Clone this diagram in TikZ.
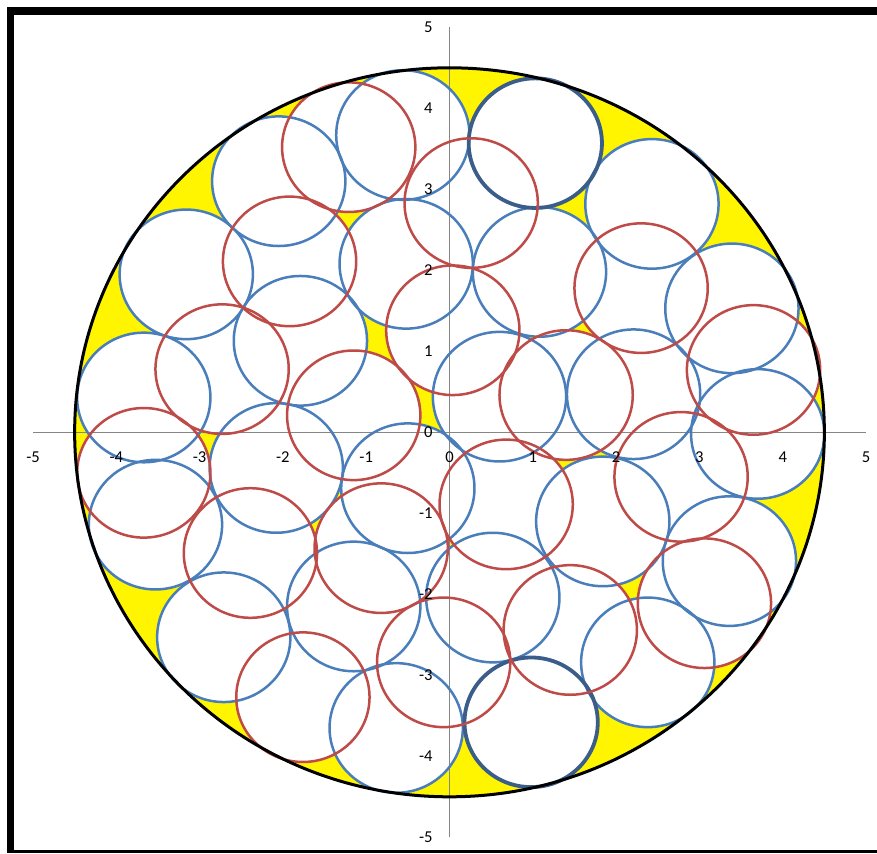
\documentclass[tikz,border=0pt]{standalone}
\usepackage{fontspec}
\setmainfont{Carlito}
\definecolor{xlblue}{HTML}{4A7EBB}
\definecolor{xlred}{HTML}{BE4B48}
\definecolor{xldark}{HTML}{3A5D89}
\definecolor{xlyellow}{HTML}{FFF500}
\definecolor{axisgray}{HTML}{868686}
\begin{document}
\begin{tikzpicture}[x=0.5pt,y=-0.5pt,
  bluec/.style={draw=xlblue,line width=1.25pt},
  redc/.style={draw=xlred,line width=1.25pt},
  darkc/.style={draw=xldark,line width=1.9pt},
  axisline/.style={draw=axisgray,line width=0.6pt},
  axislabel/.style={font=\fontsize{8.3}{10}\selectfont,inner sep=0pt,text=black},
  framebar/.style={fill=black}]
\useasboundingbox (0,0) rectangle (877,853);
\fill[white] (0,0) rectangle (877,853);
\coordinate (O) at (449.5,432.3);
\begin{scope}[shift={(O)},x=41.65pt,y=40.5pt]
  % big disc
  \fill[xlyellow] (0,0) circle [radius=4.5];
  % white fills
  \foreach \x/\y in {-0.56/3.67,-2.05/3.10,-3.16/1.95,-0.52/2.08,-1.79/1.13,-3.67/0.43,-2.08/-0.44,-0.50/-0.69,-3.53/-1.14,-2.71/-2.53,-1.15/-2.15,-0.64/-3.65,0.52/-2.04,1.84/-1.10,2.38/-2.84,3.36/-1.59,3.70/-0.02,2.43/2.82,1.08/1.98,3.39/1.53,0.60/0.44,2.21/0.47,1.03/3.57,0.98/-3.58,
    -1.21/3.52,-1.92/2.11,0.26/2.83,0.04/1.26,-2.73/0.78,-1.15/0.21,-3.67/-0.50,-2.39/-1.49,-0.82/-1.43,-1.76/-3.27,-0.07/-2.84,0.68/-0.89,1.45/-2.44,2.78/-0.55,3.06/-2.11,2.30/1.78,3.65/0.77,1.40/0.46}
    \fill[white] (\x,\y) circle [radius=0.8];
  % axes
  \coordinate (xa) at (-5,0);
  \coordinate (xb) at (5,0);
  \coordinate (ya) at (0,-5);
  \coordinate (yb) at (0,5);
  \draw[axisline] (xa) -- (xb);
  \draw[axisline] (ya) -- (yb);
  % blue outlines
  \foreach \x/\y in {-0.56/3.67,-2.05/3.10,-3.16/1.95,-0.52/2.08,-1.79/1.13,-3.67/0.43,-2.08/-0.44,-0.50/-0.69,-3.53/-1.14,-2.71/-2.53,-1.15/-2.15,-0.64/-3.65,0.52/-2.04,1.84/-1.10,2.38/-2.84,3.36/-1.59,3.70/-0.02,2.43/2.82,1.08/1.98,3.39/1.53,0.60/0.44,2.21/0.47}
    \draw[bluec] (\x,\y) circle [radius=0.8];
  % dark blue outlines
  \foreach \x/\y in {1.03/3.57,0.98/-3.58}
    \draw[darkc] (\x,\y) circle [radius=0.8];
  % red outlines
  \foreach \x/\y in {-1.21/3.52,-1.92/2.11,0.26/2.83,0.04/1.26,-2.73/0.78,-1.15/0.21,-3.67/-0.50,-2.39/-1.49,-0.82/-1.43,-1.76/-3.27,-0.07/-2.84,0.68/-0.89,1.45/-2.44,2.78/-0.55,3.06/-2.11,2.30/1.78,3.65/0.77,1.40/0.46}
    \draw[redc] (\x,\y) circle [radius=0.8];
  % big outline
  \draw[black,line width=1.5pt] (0,0) circle [radius=4.5];
  % tick labels
  \foreach \k in {-5,...,5} {
    \node[axislabel,anchor=center] (xl\k) at (\k,-0.305) {\k};
    \node[axislabel,anchor=east] (yl\k) at ([xshift=-8.25pt]0,\k) {\k};
  }
\end{scope}
% frame
\fill[framebar] (7,7) rectangle (14,853);
\fill[framebar] (7,7) rectangle (877,15);
\fill[framebar] (7,850) rectangle (877,853);
\end{tikzpicture}
\end{document}
